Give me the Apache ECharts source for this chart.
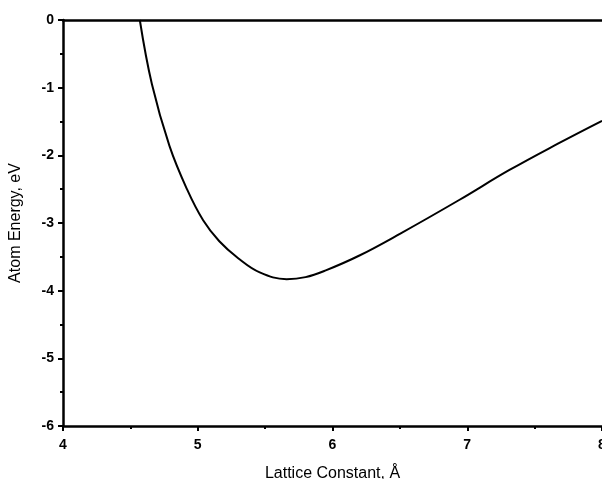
<!DOCTYPE html>
<html>
<head>
<meta charset="utf-8">
<script src="https://cdn.jsdelivr.net/npm/echarts@6/dist/echarts.min.js"></script>
<style>
  html, body { margin: 0; padding: 0; background: #fff; }
  #chart { width: 602px; height: 479px; }
</style>
</head>
<body>
<div id="chart"></div>
<script>
// lattice constant (Å) and atom energy (eV)
var latticeA = [4.57, 4.66, 4.79, 4.92, 5.04, 5.16, 5.30, 5.46, 5.66, 5.80, 5.95, 6.20, 6.50, 6.94, 7.31, 7.68, 8.00];
var energyEv = [0.00, -0.95, -1.86, -2.50, -2.96, -3.27, -3.52, -3.73, -3.83, -3.80, -3.70, -3.48, -3.16, -2.66, -2.22, -1.82, -1.49];

var xMin = 4, xMax = 8, xStep = 1;
var yMin = -6, yMax = 0, yStep = 1;

var curve = latticeA.map(function (x, i) { return [x, energyEv[i]]; });

var labelFont = { fontFamily: 'Liberation Sans', fontSize: 14, fontWeight: 'bold', color: '#000' };
var nameFont = { fontFamily: 'Liberation Sans', fontSize: 16, color: '#000' };

var chart = echarts.init(document.getElementById('chart'));
chart.setOption({
  animation: false,
  grid: { left: 63, right: 0, top: 20, bottom: 53, outerBoundsMode: 'none', containLabel: false },
  xAxis: [{
    type: 'value', min: xMin, max: xMax, interval: xStep,
    name: 'Lattice Constant, Å', nameLocation: 'middle', nameGap: 40,
    nameTextStyle: nameFont,
    axisLine: { show: true, onZero: false, lineStyle: { color: '#000', width: 2.5 } },
    axisTick: { show: true, length: 5, lineStyle: { color: '#000', width: 2 } },
    minorTick: { show: true, splitNumber: 2, length: 3, lineStyle: { color: '#000', width: 2 } },
    axisLabel: Object.assign({ margin: 12 }, labelFont),
    splitLine: { show: false }
  }, {
    type: 'value', min: xMin, max: xMax, position: 'top',
    axisLine: { show: true, onZero: false, lineStyle: { color: '#000', width: 2.5 } },
    axisTick: { show: false }, axisLabel: { show: false }, splitLine: { show: false }
  }],
  yAxis: {
    type: 'value', min: yMin, max: yMax, interval: yStep,
    name: 'Atom Energy, eV', nameLocation: 'middle', nameGap: 39,
    nameTextStyle: nameFont,
    axisLine: { show: true, onZero: false, lineStyle: { color: '#000', width: 2.5 } },
    axisTick: { show: true, length: 5, lineStyle: { color: '#000', width: 2 } },
    minorTick: { show: true, splitNumber: 2, length: 3, lineStyle: { color: '#000', width: 2 } },
    axisLabel: Object.assign({ margin: 9 }, labelFont),
    splitLine: { show: false }
  },
  series: [{
    type: 'line', data: curve, smooth: 0.4, showSymbol: false,
    lineStyle: { color: '#000', width: 2 }
  }]
});
</script>
</body>
</html>
